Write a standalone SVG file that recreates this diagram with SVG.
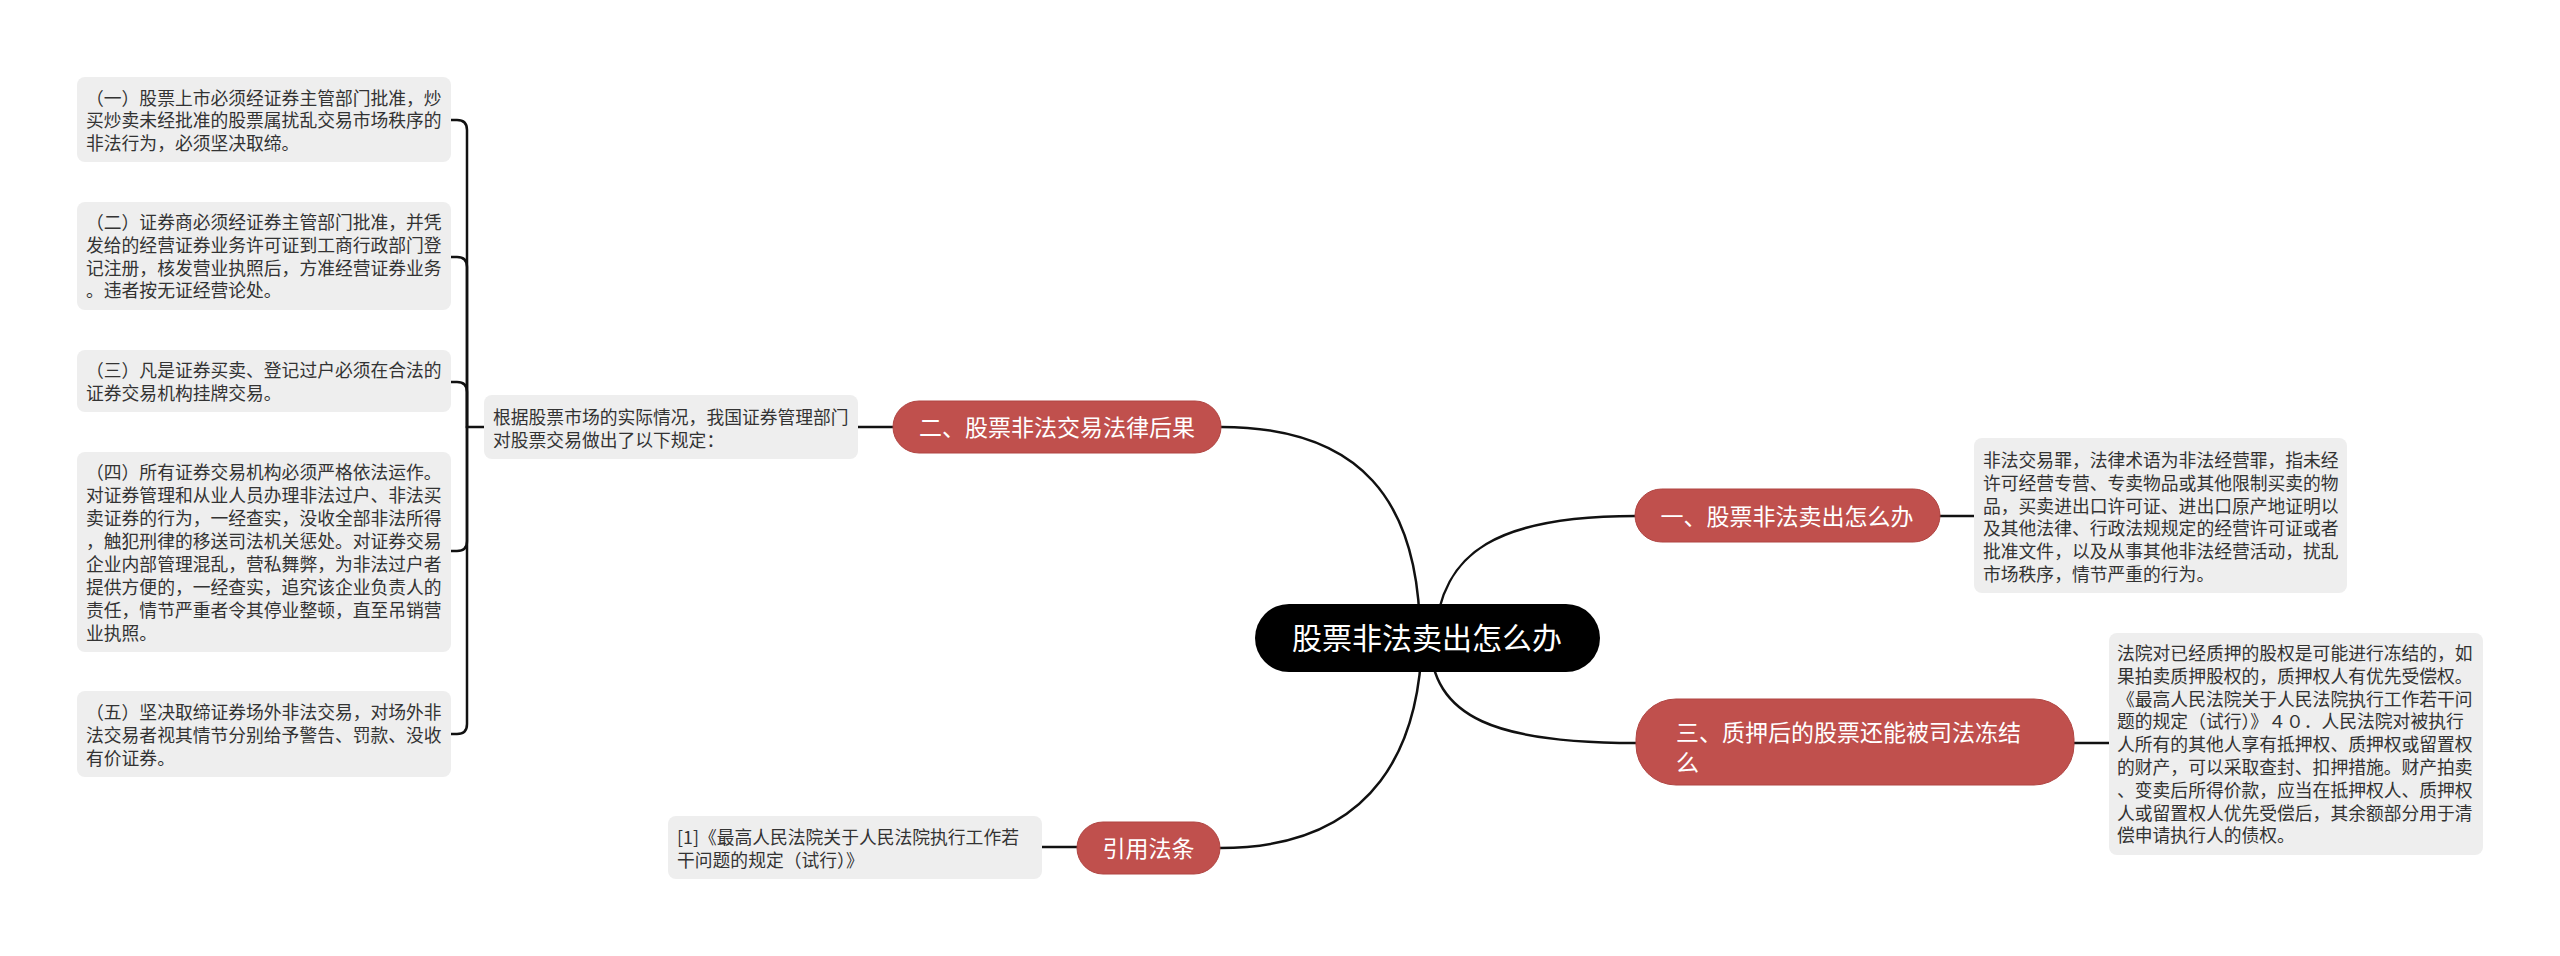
<svg xmlns="http://www.w3.org/2000/svg" width="2560" height="956" viewBox="0 0 2560 956">
<style>
.bg{fill:#ffffff}
.box{fill:#eeeeee}
.bt{font-family:"Noto Sans CJK SC","Noto Sans",sans-serif;font-size:17.8px;fill:#333333}
.red{fill:#c0504d;stroke:#b04542;stroke-width:1}
.rt{font-family:"Noto Sans CJK SC","Noto Sans",sans-serif;font-size:23px;fill:#ffffff}
.root{fill:#000000}
.roott{font-family:"Noto Sans CJK SC","Noto Sans",sans-serif;font-size:30px;fill:#ffffff;text-anchor:middle}
.ln{fill:none;stroke:#111111;stroke-width:2.5;stroke-linecap:round}
</style>
<rect class="bg" x="0" y="0" width="2560" height="956"/>
<g id="connectors">
<path class="ln" d="M1221 427 C1360 427,1420 500,1420 638"/>
<path class="ln" d="M1636 516 C1500 516,1440 550,1435 638"/>
<path class="ln" d="M1430 638 C1430 720,1500 743,1636 743"/>
<path class="ln" d="M1220 848 C1380 848,1420 740,1422 638"/>
<path class="ln" d="M858 427 H893"/>
<path class="ln" d="M1940 516 H1974"/>
<path class="ln" d="M2074 743 H2109"/>
<path class="ln" d="M1042 847 H1077"/>
<path class="ln" d="M484 427 H467 V130 Q467 120 457 120 H451"/>
<path class="ln" d="M467 427 V267 Q467 257 457 257 H451"/>
<path class="ln" d="M467 427 V392 Q467 382 457 382 H451"/>
<path class="ln" d="M467 427 V541 Q467 551 457 551 H451"/>
<path class="ln" d="M467 427 V724 Q467 734 457 734 H451"/>
</g>
<g id="root">
<rect class="root" x="1255" y="604" width="345" height="68" rx="34"/>
<text class="roott" x="1427" y="649">股票非法卖出怎么办</text>
</g>
<g id="n2">
<rect class="red" x="893" y="401" width="328" height="52" rx="26"/>
<text class="rt" x="1057" y="435.5" text-anchor="middle">二、股票非法交易法律后果</text>
</g>
<g id="n1">
<rect class="red" x="1635" y="489" width="305" height="53" rx="26.5"/>
<text class="rt" x="1787" y="524.5" text-anchor="middle">一、股票非法卖出怎么办</text>
</g>
<g id="n3">
<rect class="red" x="1636" y="699" width="438" height="86" rx="40"/>
<text class="rt" x="1676" y="740.5">三、质押后的股票还能被司法冻结</text>
<text class="rt" x="1676" y="770.5">么</text>
</g>
<g id="n4">
<rect class="red" x="1077" y="822" width="143" height="52" rx="26"/>
<text class="rt" x="1148.5" y="856.5" text-anchor="middle">引用法条</text>
</g>
<g id="mid">
<rect class="box" x="484" y="395" width="374" height="64" rx="8"/>
<text class="bt" x="493" y="424">根据股票市场的实际情况，我国证券管理部门</text>
<text class="bt" x="493" y="447">对股票交易做出了以下规定：</text>
</g>
<g id="b1">
<rect class="box" x="77" y="77" width="374" height="85" rx="8"/>
<text class="bt" x="86" y="104.5">（一）股票上市必须经证券主管部门批准，炒</text>
<text class="bt" x="86" y="127.3">买炒卖未经批准的股票属扰乱交易市场秩序的</text>
<text class="bt" x="86" y="150.1">非法行为，必须坚决取缔。</text>
</g>
<g id="b2">
<rect class="box" x="77" y="202" width="374" height="108" rx="8"/>
<text class="bt" x="86" y="229">（二）证券商必须经证券主管部门批准，并凭</text>
<text class="bt" x="86" y="251.8">发给的经营证券业务许可证到工商行政部门登</text>
<text class="bt" x="86" y="274.6">记注册，核发营业执照后，方准经营证券业务</text>
<text class="bt" x="86" y="297.4">。违者按无证经营论处。</text>
</g>
<g id="b3">
<rect class="box" x="77" y="350" width="374" height="62" rx="8"/>
<text class="bt" x="86" y="377">（三）凡是证券买卖、登记过户必须在合法的</text>
<text class="bt" x="86" y="399.8">证券交易机构挂牌交易。</text>
</g>
<g id="b4">
<rect class="box" x="77" y="452" width="374" height="200" rx="8"/>
<text class="bt" x="86" y="479">（四）所有证券交易机构必须严格依法运作。</text>
<text class="bt" x="86" y="502">对证券管理和从业人员办理非法过户、非法买</text>
<text class="bt" x="86" y="525">卖证券的行为，一经查实，没收全部非法所得</text>
<text class="bt" x="86" y="548">，触犯刑律的移送司法机关惩处。对证券交易</text>
<text class="bt" x="86" y="571">企业内部管理混乱，营私舞弊，为非法过户者</text>
<text class="bt" x="86" y="594">提供方便的，一经查实，追究该企业负责人的</text>
<text class="bt" x="86" y="617">责任，情节严重者令其停业整顿，直至吊销营</text>
<text class="bt" x="86" y="640">业执照。</text>
</g>
<g id="b5">
<rect class="box" x="77" y="691" width="374" height="86" rx="8"/>
<text class="bt" x="86" y="719">（五）坚决取缔证券场外非法交易，对场外非</text>
<text class="bt" x="86" y="741.8">法交易者视其情节分别给予警告、罚款、没收</text>
<text class="bt" x="86" y="764.6">有价证券。</text>
</g>
<g id="r1">
<rect class="box" x="1974" y="438" width="373" height="155" rx="8"/>
<text class="bt" x="1983" y="467">非法交易罪，法律术语为非法经营罪，指未经</text>
<text class="bt" x="1983" y="489.8">许可经营专营、专卖物品或其他限制买卖的物</text>
<text class="bt" x="1983" y="512.6">品，买卖进出口许可证、进出口原产地证明以</text>
<text class="bt" x="1983" y="535.4">及其他法律、行政法规规定的经营许可证或者</text>
<text class="bt" x="1983" y="558.2">批准文件，以及从事其他非法经营活动，扰乱</text>
<text class="bt" x="1983" y="581">市场秩序，情节严重的行为。</text>
</g>
<g id="r2">
<rect class="box" x="2109" y="633" width="374" height="222" rx="8"/>
<text class="bt" x="2117" y="660">法院对已经质押的股权是可能进行冻结的，如</text>
<text class="bt" x="2117" y="682.8">果拍卖质押股权的，质押权人有优先受偿权。</text>
<text class="bt" x="2117" y="705.6">《最高人民法院关于人民法院执行工作若干问</text>
<text class="bt" x="2117" y="728.4">题的规定（试行）》４０．人民法院对被执行</text>
<text class="bt" x="2117" y="751.2">人所有的其他人享有抵押权、质押权或留置权</text>
<text class="bt" x="2117" y="774">的财产，可以采取查封、扣押措施。财产拍卖</text>
<text class="bt" x="2117" y="796.8">、变卖后所得价款，应当在抵押权人、质押权</text>
<text class="bt" x="2117" y="819.6">人或留置权人优先受偿后，其余额部分用于清</text>
<text class="bt" x="2117" y="842.4">偿申请执行人的债权。</text>
</g>
<g id="ref">
<rect class="box" x="668" y="816" width="374" height="63" rx="8"/>
<text class="bt" x="677" y="844">[1]《最高人民法院关于人民法院执行工作若</text>
<text class="bt" x="677" y="867">干问题的规定（试行）》</text>
</g>
</svg>
